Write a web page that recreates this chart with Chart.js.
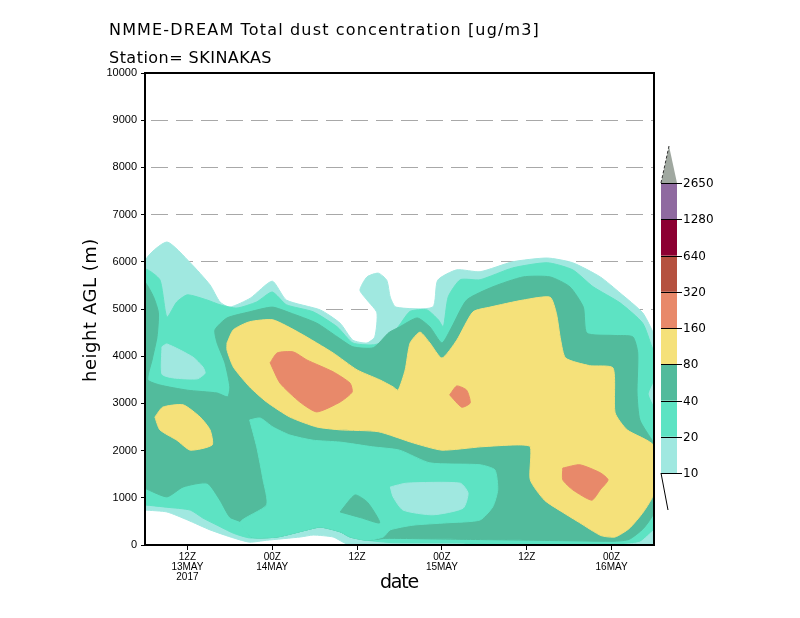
<!DOCTYPE html>
<html><head><meta charset="utf-8">
<script src="https://cdn.jsdelivr.net/npm/chart.js@4.4.1/dist/chart.umd.min.js"></script>
<style>html,body{margin:0;padding:0;background:#fff;}#wrap{width:800px;height:618px;}</style>
</head><body><div id="wrap"><canvas id="c" width="800" height="618"></canvas></div>
<script>
// ---------- DATA ----------
// x: hours since 06Z 13MAY2017, y: height AGL (m)
const titleText = 'NMME-DREAM Total dust concentration [ug/m3]';
const stationText = 'Station= SKINAKAS';
const xAxisTitle = 'date';
const yAxisTitle = 'height AGL (m)';
const xTickHours = [6, 18, 30, 42, 54, 66];
const xTickLabels = [['12Z','13MAY','2017'], ['00Z','14MAY'], ['12Z'], ['00Z','15MAY'], ['12Z'], ['00Z','16MAY']];
const yTickValues = [0,1000,2000,3000,4000,5000,6000,7000,8000,9000,10000];
const levels = [10, 20, 40, 80, 160, 320, 640, 1280, 2650];
const levelColors = ['#a0e8e0', '#5de3c3', '#52bb9c', '#f5e17a', '#e8896a', '#b5513f', '#8c0032', '#8f6aa0'];
const aboveTopColor = '#a0a8a0';

// contour regions (value >= level), outlines as [hour, metres]
const dust10_area = [[0,740],[0,6000],[3.1,6420],[6.4,5980],[9.2,5510],[10.6,5150],[12,5040],[14.9,5230],[18,5590],[20,5190],[24.8,4980],[27.6,4700],[29.4,4340],[31.4,4280],[32.5,4410],[32.8,4920],[31.4,5190],[30.4,5400],[31.4,5680],[33,5760],[34.2,5610],[34.7,5250],[35.5,5040],[40.7,5040],[41.4,5610],[44.1,5830],[47.4,5790],[52,6000],[56.9,6080],[60.5,5980],[64.4,5680],[67.2,5340],[70.4,4920],[71.7,4560],[72,4450],[72,0],[29,0],[28,60],[26.6,170],[23.8,210],[22,170],[17.2,100],[14.8,60],[12.5,150],[9.2,320],[6,530],[3.1,700],[0,740]];
const dust20_area = [[0,850],[0,5830],[2.1,5620],[3.1,4830],[4.5,5150],[6,5300],[8.8,5190],[10.6,5090],[13,5020],[15.8,5150],[18,5360],[20,5090],[23.8,4940],[27.2,4620],[29.4,4280],[32.3,4240],[34.2,4340],[36,4660],[37.5,4950],[39.9,4980],[41.5,4770],[42.2,4620],[42.9,5260],[44.6,5620],[47.4,5620],[52,5870],[56.9,5980],[60.5,5830],[63.4,5470],[67.2,5130],[70.4,4700],[71.7,4200],[72,4100],[72,0],[47,0],[45,40],[35,50],[31.4,100],[29,170],[27.6,280],[24.8,380],[22.9,320],[18.7,170],[14.8,150],[12.5,250],[10.2,420],[8.2,570],[6.4,740],[3.1,800],[0,850]];
const dust10_edgePocket = [[72,3450],[71.3,3200],[72,2950]];
const dust10_cornerPocket = [[67,0],[70,60],[72,300],[72,0]];
const dust40_area = [[0,1200],[0,5550],[1.2,5260],[1.9,4920],[1.7,4410],[1.0,3920],[0.4,3500],[2.1,3390],[6,3280],[10.2,3220],[11.7,3140],[12,3350],[11.3,3860],[10.2,4280],[9.9,4560],[11.6,4810],[14.8,4940],[18,5040],[20.5,4920],[24.3,4700],[27.2,4410],[29.4,4200],[32.3,4180],[34.5,4500],[36,4620],[38.5,4810],[40.3,4620],[42,4280],[43.4,4620],[45.5,5190],[49.2,5470],[53.5,5680],[57.3,5680],[60.1,5470],[62,5040],[62.5,4490],[66.2,4440],[69,4410],[69.7,4070],[69.6,3220],[70,2650],[71.9,2180],[72,2150],[72,700],[70.5,350],[68.5,120],[66.5,80],[60,90],[50,110],[45,120],[40,130],[34,140],[31.4,100],[29,170],[27.6,280],[24.8,380],[22.9,320],[18.7,170],[15,170],[13.5,490],[12,590],[10.6,950],[8.8,1310],[5.4,1230],[3.1,1020],[0,1200]];
const dust40_gapLower = [[14.8,2650],[16.3,2690],[18.1,2500],[20.5,2330],[23.8,2220],[27.6,2180],[32.2,2080],[36,2010],[40.3,1740],[47.4,1700],[49.5,1590],[49.9,1170],[49.2,810],[47.4,530],[42.7,470],[37.9,420],[34.7,320],[33.7,170],[31.4,100],[29,170],[27.6,280],[24.8,380],[22.9,320],[18.7,170],[15,170],[13.5,490],[17.2,850],[16.7,1380],[15.8,2080],[14.8,2650]];
const dust20_gapUpper = [[2.4,4200],[3.1,4260],[6.8,3980],[8.2,3770],[8.5,3640],[7.4,3520],[4,3540],[2.4,3620],[2.4,4200]];
const dust20_gapLower = [[34.7,1230],[37,1310],[44.6,1310],[45.7,1100],[45,780],[40.7,640],[36.5,740],[35.1,1020],[34.7,1230]];
const dust40_patch = [[27.6,700],[29.7,1060],[31.5,900],[33.2,470],[30.5,580],[27.6,700]];
const dust80_left = [[1.4,2710],[2.5,2920],[5.4,2970],[7.8,2710],[9.2,2440],[9.5,2120],[6.4,2010],[4.5,2220],[2.1,2440],[1.4,2710]];
const dust80_main = [[11.6,4280],[12.5,4560],[14.8,4730],[18.1,4770],[21.9,4490],[26.6,4070],[30,3710],[33.2,3500],[35.1,3350],[35.8,3280],[36.8,3710],[37.5,4280],[38.9,4510],[40.3,4280],[42,3960],[44.1,4340],[46.4,4940],[48.8,5040],[53.5,5190],[57.3,5250],[58.2,4900],[58.8,4340],[59.5,3960],[62.9,3800],[66.2,3750],[66.5,2800],[68.2,2440],[72,2100],[72,1100],[70.5,700],[68.5,350],[66.5,170],[64.5,200],[61.5,470],[59,700],[56.5,950],[54.5,1380],[54.5,2080],[52.5,2120],[47.5,2080],[42,2010],[38,2160],[33,2400],[27.6,2440],[24.3,2500],[20.5,2710],[17.2,3030],[14.8,3350],[12.5,3770],[11.6,4130],[11.6,4280]];
const dust160_a = [[17.7,3860],[18.7,4070],[21,4090],[22.9,3920],[26.6,3670],[29,3430],[29.3,3240],[27.6,3030],[24.3,2820],[21.9,3030],[19.1,3430],[17.7,3860]];
const dust160_b = [[43.1,3180],[44.1,3370],[45.5,3280],[46,3010],[44.8,2920],[43.1,3180]];
const dust160_c = [[59.1,1630],[61.5,1700],[64.4,1530],[65.5,1380],[64.4,1170],[63.2,950],[60.5,1170],[59.1,1380],[59.1,1630]];

// drawing order (bottom first) and colour bin (lower level of the band)
const layers = [
  {pts: dust10_area, bin: 10},
  {pts: dust20_area, bin: 20},
  {pts: dust10_edgePocket, bin: 10},
  {pts: dust10_cornerPocket, bin: 10},
  {pts: dust40_area, bin: 40},
  {pts: dust40_gapLower, bin: 20},
  {pts: dust20_gapUpper, bin: 10},
  {pts: dust20_gapLower, bin: 10},
  {pts: dust40_patch, bin: 40},
  {pts: dust80_left, bin: 80},
  {pts: dust80_main, bin: 80},
  {pts: dust160_a, bin: 160},
  {pts: dust160_b, bin: 160},
  {pts: dust160_c, bin: 160}
];

// ---------- CHART ----------
const N = layers.length;
const datasets = layers.map((l, i) => {
  const col = levelColors[levels.indexOf(l.bin)];
  return {
    data: l.pts.map(p => ({x: p[0], y: p[1]})),
    showLine: true, fill: 'shape', tension: 0.2,
    backgroundColor: col, borderColor: col, borderWidth: 1,
    pointRadius: 0, pointHoverRadius: 0, order: N - i
  };
});

function fitText(ctx, t, x, y, font, target) {
  ctx.font = font;
  ctx.letterSpacing = '0px';
  const w = ctx.measureText(t).width;
  const s = (target - w) / t.length;
  ctx.letterSpacing = s.toFixed(2) + 'px';
  ctx.fillText(t, x, y);
  ctx.letterSpacing = '0px';
}

const decor = {
  id: 'decor',
  afterDraw(chart) {
    const ctx = chart.ctx, a = chart.chartArea;
    ctx.save();
    ctx.strokeStyle = '#000'; ctx.lineWidth = 2;
    ctx.strokeRect(a.left, a.top, a.right - a.left, a.bottom - a.top);
    ctx.fillStyle = '#000'; ctx.textAlign = 'left'; ctx.textBaseline = 'alphabetic';
    fitText(ctx, titleText, 109, 35, '16px "DejaVu Sans"', 431);
    fitText(ctx, stationText, 109, 63, '16px "DejaVu Sans"', 163);
    fitText(ctx, xAxisTitle, 380, 588, '19px "DejaVu Sans"', 38);
    ctx.save();
    ctx.translate(91, 310); ctx.rotate(-Math.PI / 2);
    fitText(ctx, yAxisTitle, -72, 5, '18px "DejaVu Sans"', 144);
    ctx.restore();
    // colour bar
    const x0 = a.right + 7, w = 16, yb = 473, step = 36.25;
    for (let i = 0; i < levelColors.length; i++) {
      ctx.fillStyle = levelColors[i];
      ctx.fillRect(x0, yb - (i + 1) * step, w, step);
    }
    const ytop = yb - levelColors.length * step;
    ctx.fillStyle = aboveTopColor;
    ctx.beginPath(); ctx.moveTo(x0, ytop); ctx.lineTo(x0 + w / 2, ytop - 37); ctx.lineTo(x0 + w, ytop); ctx.closePath(); ctx.fill();
    ctx.strokeStyle = '#333'; ctx.lineWidth = 1; ctx.setLineDash([3, 2]);
    ctx.beginPath(); ctx.moveTo(x0, ytop); ctx.lineTo(x0 + w / 2, ytop - 37); ctx.stroke();
    ctx.setLineDash([]);
    ctx.strokeStyle = '#000';
    ctx.beginPath(); ctx.moveTo(x0, yb); ctx.lineTo(x0 + 7, yb + 37); ctx.stroke();
    ctx.font = '12px "DejaVu Sans"'; ctx.fillStyle = '#000'; ctx.textBaseline = 'middle';
    for (let i = 0; i < levels.length; i++) {
      const y = Math.round(yb - i * step) + 0.5;
      ctx.beginPath(); ctx.moveTo(x0, y); ctx.lineTo(x0 + 21, y); ctx.stroke();
      ctx.fillText(String(levels[i]), x0 + 22, y);
    }
    ctx.restore();
  }
};

new Chart(document.getElementById('c'), {
  type: 'scatter',
  data: {datasets},
  options: {
    responsive: false, animation: false, devicePixelRatio: 1,
    layout: {padding: {left: 0, right: 146, top: 73, bottom: 0}},
    plugins: {legend: {display: false}, tooltip: {enabled: false}, title: {display: false}},
    events: [],
    scales: {
      x: {
        type: 'linear', min: 0, max: 72, z: 1,
        afterFit(s) { s.height = 73; },
        afterBuildTicks(s) { s.ticks = xTickHours.map(v => ({value: v})); },
        ticks: {autoSkip: false, maxRotation: 0, color: '#000', padding: 2,
          font: {family: 'Liberation Sans', size: 10, lineHeight: 1.0},
          callback: (v, i) => xTickLabels[i]},
        grid: {drawOnChartArea: false, tickColor: '#000', tickLength: 5},
        border: {color: '#000', width: 2}
      },
      y: {
        type: 'linear', min: 0, max: 10000, z: 1,
        afterFit(s) { s.width = 145; },
        afterBuildTicks(s) { s.ticks = yTickValues.map(v => ({value: v})); },
        ticks: {color: '#000', padding: 4, font: {family: 'Liberation Sans', size: 11},
          callback: v => String(v)},
        grid: {
          color: c => (c.tick && (c.tick.value === 0 || c.tick.value === 10000)) ? 'rgba(0,0,0,0)' : '#a8a8a8',
          lineWidth: 1, tickColor: '#000', tickLength: 4
        },
        border: {color: '#000', width: 2, dash: [17, 8], dashOffset: -5}
      }
    }
  },
  plugins: [decor]
});
</script></body></html>
